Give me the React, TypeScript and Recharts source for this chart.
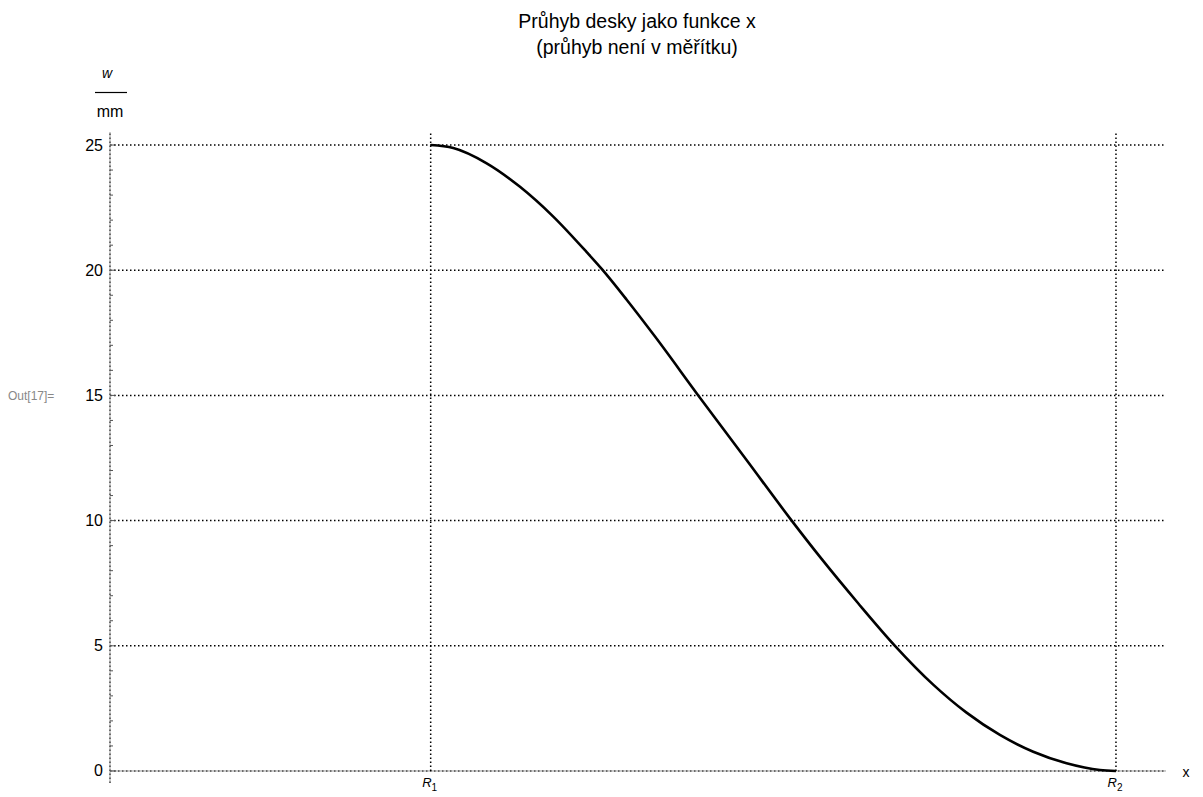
import { LineChart, Line, XAxis, YAxis, CartesianGrid, ReferenceLine } from 'recharts';

// x measured in units of R1 (R1 = 1), w in mm
const R1 = 1;
const R2 = 3.137;
const xValues = [1, 1.0705, 1.1746, 1.2785, 1.3823, 1.4865, 1.5333, 1.6112, 1.699, 1.8344, 1.985, 2.1257, 2.219, 2.333, 2.4478, 2.567, 2.671, 2.775, 2.879, 2.983, 3.087, 3.137];
const wValues = [25, 24.88, 24.27, 23.33, 22.14, 20.72, 20.05, 18.82, 17.36, 15.0, 12.42, 10.0, 8.47, 6.7, 5.0, 3.45, 2.33, 1.44, 0.77, 0.31, 0.04, 0];
const yMajor = [0, 5, 10, 15, 20, 25];
const yMinor = Array.from({ length: 26 }, (_, i) => i);
const xTicks = [R1, R2];
const xTickLabels = ['1', '2'];

const data = xValues.map((x, i) => ({ x, w: wValues[i] }));

const FONT = 'Arial, "Liberation Sans", sans-serif';

function YTick(props: any) {
  const { x, y, payload } = props;
  const major = payload.value % 5 === 0;
  return (
    <g>
      <line x1={x} x2={x + (major ? 6 : 3)} y1={y} y2={y} stroke="#555" strokeWidth={1} />
      {major && (
        <text x={x - 7} y={y + 5.5} textAnchor="end" fontSize={16} fill="#000" fontFamily={FONT}>
          {payload.value}
        </text>
      )}
    </g>
  );
}

function XTick(props: any) {
  const { x, y, payload } = props;
  const idx = xTicks.indexOf(payload.value);
  return (
    <text x={x - 1} y={y + 4} textAnchor="middle" fontFamily={FONT} fill="#000">
      <tspan fontSize={13} fontStyle="italic">R</tspan>
      <tspan fontSize={10} dy={4}>{xTickLabels[idx]}</tspan>
    </text>
  );
}

export default function App() {
  return (
    <div style={{ position: 'absolute', left: 0, top: 0, width: 1203, height: 797, background: '#fff' }}>
      <LineChart
        width={1203}
        height={797}
        data={data}
        margin={{ top: 132, right: 37, bottom: 0, left: 109 }}
        style={{ fontFamily: FONT }}
      >
        <CartesianGrid
          horizontal
          vertical={false}
          horizontalValues={yMajor}
          stroke="#000"
          strokeWidth={1.5}
          strokeDasharray="1.5 2.5"
        />
        <XAxis
          type="number"
          dataKey="x"
          domain={[0, 3.293]}
          ticks={xTicks}
          height={14}
          axisLine={false}
          tickLine={false}
          tickSize={0}
          tickMargin={0}
          tick={<XTick />}
          interval={0}
        />
        <YAxis
          type="number"
          domain={[-0.48, 25.52]}
          ticks={yMinor}
          width={1}
          axisLine={{ stroke: '#999', strokeWidth: 1 }}
          tickLine={false}
          tickSize={0}
          tickMargin={0}
          tick={<YTick />}
          interval={0}
          allowDataOverflow
        />
        <ReferenceLine y={0} stroke="#999" strokeWidth={1} />
        <ReferenceLine
          segment={[{ x: 0, y: -0.48 }, { x: 0, y: 25.52 }]}
          stroke="#000"
          strokeWidth={1.5}
          strokeDasharray="1.5 2.5"
        />
        <ReferenceLine
          segment={[{ x: R1, y: 0 }, { x: R1, y: 25.52 }]}
          stroke="#000"
          strokeWidth={1.5}
          strokeDasharray="1.5 2.5"
        />
        <ReferenceLine
          segment={[{ x: R2, y: 0 }, { x: R2, y: 25.52 }]}
          stroke="#000"
          strokeWidth={1.5}
          strokeDasharray="1.5 2.5"
        />
        <Line
          type="monotone"
          dataKey="w"
          stroke="#000"
          strokeWidth={2.6}
          dot={false}
          isAnimationActive={false}
        />
      </LineChart>
      <svg
        width={1203}
        height={797}
        style={{ position: 'absolute', left: 0, top: 0, pointerEvents: 'none' }}
        fontFamily={FONT}
      >
        <text x={637} y={28} textAnchor="middle" fontSize={19.5} fill="#000">Průhyb desky jako funkce x</text>
        <text x={637} y={54} textAnchor="middle" fontSize={19.5} fill="#000">(průhyb není v měřítku)</text>
        <text x={107} y={78} textAnchor="middle" fontSize={14} fontStyle="italic" fill="#000">w</text>
        <line x1={95} x2={127} y1={92.5} y2={92.5} stroke="#000" strokeWidth={1.2} />
        <text x={110} y={117} textAnchor="middle" fontSize={16} fill="#000">mm</text>
        <text x={8} y={400} fontSize={12} fill="#888">Out[17]=</text>
        <text x={1186} y={777} textAnchor="middle" fontSize={14} fill="#000">x</text>
      </svg>
    </div>
  );
}
